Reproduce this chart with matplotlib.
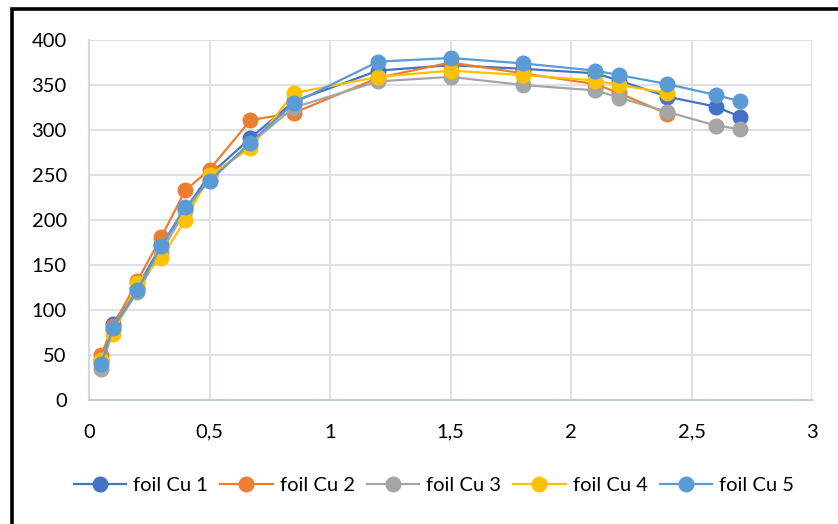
import matplotlib
matplotlib.use("Agg")
import matplotlib.pyplot as plt
from matplotlib.lines import Line2D

plt.rcParams['font.family'] = ['Lato', 'DejaVu Sans']

x_full = [0.05, 0.1, 0.2, 0.3, 0.4, 0.5, 0.67, 0.85, 1.2, 1.5, 1.8, 2.1, 2.2, 2.4, 2.6, 2.7]
x_short = [0.05, 0.1, 0.2, 0.3, 0.4, 0.5, 0.67, 0.85, 1.2, 1.5, 1.8, 2.1, 2.2, 2.4]

cu1 = [45, 85, 125, 172, 212, 250, 291, 332, 366, 372, 368, 363, 355, 337, 326, 315]
cu2 = [50, 82, 132, 181, 233, 256, 311, 319, 358, 375, 363, 351, 341, 318]
cu3 = [35, 78, 120, 165, 210, 245, 285, 325, 354, 359, 350, 344, 336, 320, 305, 301]
cu4 = [45, 73, 130, 158, 200, 250, 280, 341, 359, 366, 361, 355, 350, 341]
cu5 = [40, 80, 122, 171, 215, 243, 286, 330, 376, 380, 374, 366, 361, 351, 339, 332]

labels = ["foil Cu 1", "foil Cu 2", "foil Cu 3", "foil Cu 4", "foil Cu 5"]
colors = ["#4472C4", "#ED7D31", "#A5A5A5", "#FFC000", "#5B9BD5"]
series = [(x_full, cu1), (x_short, cu2), (x_full, cu3), (x_short, cu4), (x_full, cu5)]

xticks = [0, 0.5, 1, 1.5, 2, 2.5, 3]
xticklabels = ["0", "0,5", "1", "1,5", "2", "2,5", "3"]
yticks = [0, 50, 100, 150, 200, 250, 300, 350, 400]

W, H = 838, 524
fig = plt.figure(figsize=(W / 100, H / 100), dpi=100)
ax = fig.add_axes([89 / W, 1 - 400 / H, (812 - 89) / W, (400 - 40) / H])

for (xs, ys), c, lab in zip(series, colors, labels):
    ax.plot(xs, ys, color=c, lw=1.6, marker='o', markersize=10.5,
            markerfacecolor=c, markeredgecolor=c, label=lab, zorder=3)

ax.set_xlim(0, 3)
ax.set_ylim(0, 400)
ax.set_xticks(xticks)
ax.set_xticklabels(xticklabels)
ax.set_yticks(yticks)
ax.grid(True, color="#DCE0E8", lw=1.5, zorder=0)
for s in ax.spines.values():
    s.set_visible(False)
ax.spines['bottom'].set_visible(True)
ax.spines['bottom'].set_color("#C3C9D6")
ax.spines['bottom'].set_linewidth(1.5)
ax.spines['left'].set_visible(True)
ax.spines['left'].set_color("#D3D8E2")
ax.spines['left'].set_linewidth(1.5)
ax.tick_params(axis='both', length=0, labelsize=14.5, colors='black')
ax.tick_params(axis='y', pad=16)
ax.tick_params(axis='x', pad=17)

fig.legend(loc='center', bbox_to_anchor=(434 / W, 1 - 485 / H), ncol=5,
           frameon=False, fontsize=14.5, handlelength=2.6, handletextpad=0.35,
           columnspacing=0.6)

# black frame on left and top
fig.add_artist(Line2D([11.5 / W, 11.5 / W, 1], [0, 1 - 8.5 / H, 1 - 8.5 / H],
                      transform=fig.transFigure, color='black', lw=2.6,
                      solid_joinstyle='miter'))

fig.savefig("out.png", dpi=100)
